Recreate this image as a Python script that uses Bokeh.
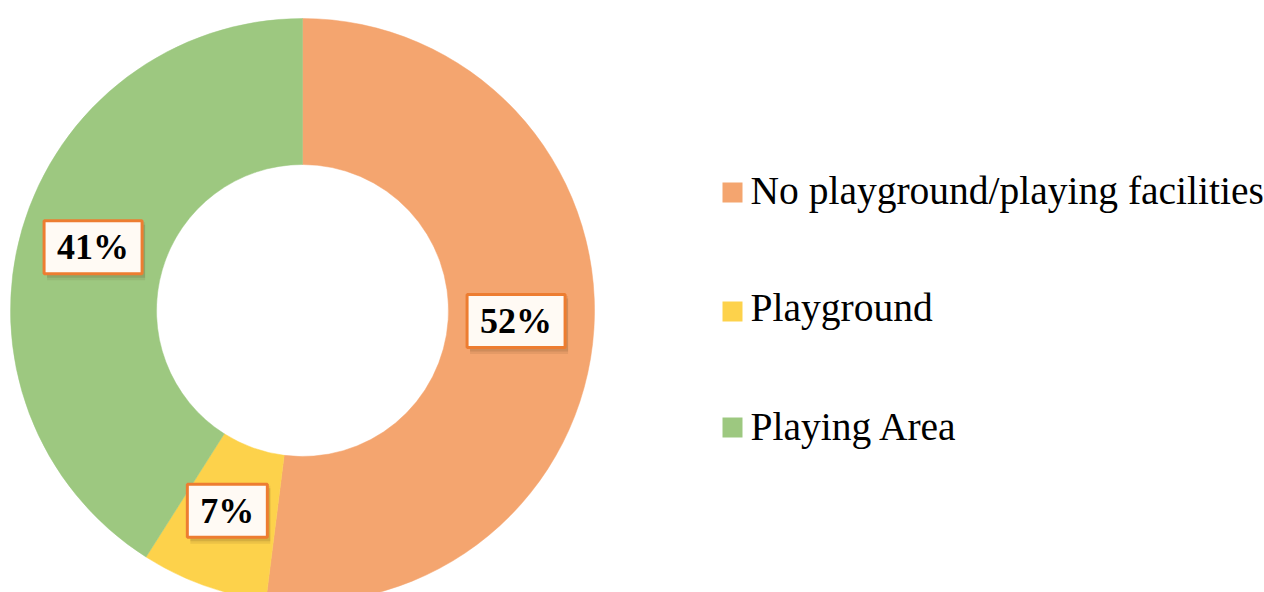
import math
from bokeh.plotting import figure
from bokeh.models import Range1d, ColumnDataSource
from bokeh.core.properties import value
from bokeh.embed import file_html
from bokeh.resources import INLINE

categories = ["No playground/playing facilities", "Playground", "Playing Area"]
values = [52, 7, 41]
labels = ["52%", "7%", "41%"]
colors = ["#F4A56F", "#FDD24B", "#9DC880"]

W, H = 1264, 592
cx, cy = 302, H - 310
r_out, r_in = 292, 146
r_lab = 216

p = figure(width=W, height=H, x_range=Range1d(0, W), y_range=Range1d(0, H),
           output_backend="svg", toolbar_location=None, min_border=0)
p.axis.visible = False
p.grid.visible = False
p.outline_line_color = None
p.background_fill_color = "white"
p.border_fill_color = "white"

total = sum(values)
starts, ends, lx, ly = [], [], [], []
acc = 0.0
for v in values:
    a0 = math.pi / 2 - 2 * math.pi * acc / total
    a1 = math.pi / 2 - 2 * math.pi * (acc + v) / total
    starts.append(a0)
    ends.append(a1)
    mid = (a0 + a1) / 2
    lx.append(cx + r_lab * math.cos(mid) - 2)
    ly.append(cy + r_lab * math.sin(mid) + 3)
    acc += v

src = ColumnDataSource(dict(start=starts, end=ends, color=colors, lx=lx, ly=ly,
                            label=labels,
                            bw=[18 * len(s) + 44 for s in labels],
                            sx=[x + 3 for x in lx], sy=[y - 4 for y in ly]))

p.annular_wedge(x=cx, y=cy, inner_radius=r_in, outer_radius=r_out,
                start_angle="start", end_angle="end", direction="clock",
                fill_color="color", line_color="color", line_width=0.5, source=src)

# label box shadows
p.rect(x="sx", y="sy", width="bw", height=58, fill_color="#5a3a1a", fill_alpha=0.10,
       line_color=None, source=src)
p.rect(x="sx", y="sy", width="bw", height=53, fill_color="#5a3a1a", fill_alpha=0.15,
       line_color=None, source=src)
# label boxes
p.rect(x="lx", y="ly", width="bw", height=53, fill_color="#FFFAF4",
       line_color="#ED7D31", line_width=3, source=src)
p.text(x="lx", y="ly", text="label", text_align="center", text_baseline="middle",
       text_font=value("Liberation Serif"), text_font_style="bold",
       text_font_size="36px", text_color="#000000", source=src)

# legend
leg_y = [H - 190, H - 307, H - 426]
leg = ColumnDataSource(dict(x=[732] * 3, y=[H - 192, H - 311, H - 427], tx=[750] * 3,
                            ty=leg_y, text=categories, color=colors))
p.rect(x="x", y="y", width=20, height=20, fill_color="color", line_color=None, source=leg)
p.text(x="tx", y="ty", text="text", text_align="left", text_baseline="alphabetic",
       text_font=value("Liberation Serif"), text_font_size="39.5px",
       text_color="#000000", source=leg)

open("out.html", "w").write(file_html(p, INLINE))
